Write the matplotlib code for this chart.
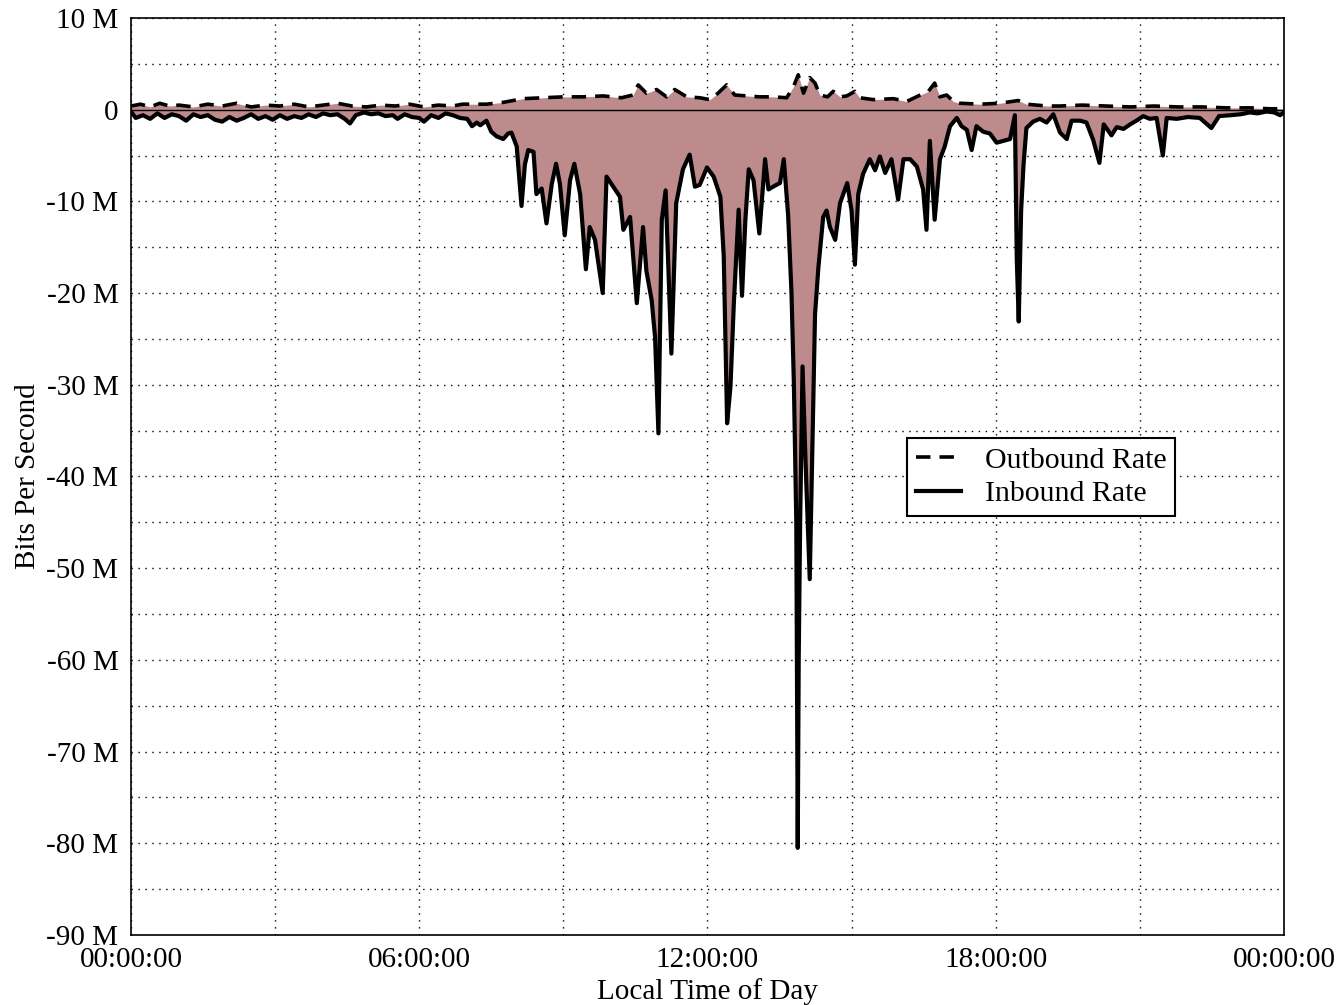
import matplotlib
matplotlib.use("Agg")
import matplotlib.pyplot as plt
from matplotlib.ticker import MultipleLocator, FuncFormatter, FixedLocator

# ---- data (hours of day, megabits per second) ----
in_hours = [0.0, 0.1, 0.25, 0.4, 0.55, 0.7, 0.85, 1.0, 1.15, 1.3, 1.45, 1.6, 1.75, 1.9, 2.05, 2.2,
            2.35, 2.5, 2.65, 2.8, 2.95, 3.1, 3.25, 3.4, 3.55, 3.7, 3.85, 4.0, 4.15, 4.3, 4.45, 4.56,
            4.68, 4.85, 5.0, 5.15, 5.3, 5.45, 5.55, 5.7, 5.85, 6.0, 6.1, 6.25, 6.4, 6.55, 6.7, 6.85,
            7.0, 7.1, 7.2, 7.27, 7.4, 7.5, 7.61, 7.75, 7.85, 7.92, 8.03, 8.13, 8.2, 8.27, 8.38, 8.44,
            8.55, 8.65, 8.76, 8.85, 8.93, 9.03, 9.14, 9.23, 9.35, 9.47, 9.55, 9.66, 9.82, 9.9, 10.04,
            10.18, 10.25, 10.39, 10.53, 10.66, 10.73, 10.84, 10.91, 10.98, 11.05, 11.13, 11.25, 11.35,
            11.49, 11.63, 11.74, 11.84, 11.99, 12.13, 12.27, 12.34, 12.41, 12.48, 12.55, 12.65, 12.72,
            12.79, 12.86, 12.96, 13.08, 13.2, 13.27, 13.4, 13.51, 13.59, 13.68, 13.75, 13.8, 13.85,
            13.87, 13.88, 13.9, 13.93, 13.98, 14.04, 14.13, 14.18, 14.24, 14.31, 14.41, 14.48, 14.55,
            14.66, 14.76, 14.91, 15.0, 15.07, 15.14, 15.24, 15.38, 15.49, 15.59, 15.7, 15.83, 15.97,
            16.08, 16.22, 16.36, 16.49, 16.56, 16.63, 16.73, 16.84, 16.94, 17.05, 17.19, 17.29, 17.4,
            17.5, 17.6, 17.74, 17.88, 18.02, 18.16, 18.3, 18.4, 18.44, 18.48, 18.53, 18.58, 18.64,
            18.78, 18.92, 19.06, 19.2, 19.34, 19.48, 19.58, 19.76, 19.89, 20.03, 20.16, 20.25, 20.41,
            20.52, 20.66, 20.8, 20.93, 21.07, 21.21, 21.35, 21.48, 21.56, 21.77, 22.0, 22.25, 22.49,
            22.65, 22.9, 23.1, 23.29, 23.45, 23.64, 23.8, 23.92, 24.0]
inbound = [-0.2, -0.9, -0.6, -1.0, -0.4, -0.9, -0.5, -0.7, -1.2, -0.5, -0.8, -0.6, -1.1, -1.3, -0.8, -1.2,
           -0.9, -0.5, -1.0, -0.7, -1.1, -0.6, -1.0, -0.7, -0.9, -0.5, -0.8, -0.4, -0.6, -0.5, -1.0, -1.5,
           -0.6, -0.3, -0.5, -0.4, -0.7, -0.6, -1.0, -0.5, -0.8, -0.9, -1.3, -0.6, -0.9, -0.4, -0.6, -0.9,
           -1.0, -1.8, -1.4, -1.7, -1.2, -2.4, -2.9, -3.2, -2.6, -2.5, -4.0, -10.5, -6.0, -4.4, -4.6, -9.2,
           -8.6, -12.4, -8.1, -5.9, -8.1, -13.7, -7.7, -5.9, -9.2, -17.4, -12.8, -14.2, -20.0, -7.3, -8.4,
           -9.5, -13.1, -11.7, -21.1, -12.8, -17.6, -20.8, -24.8, -35.3, -12.0, -8.8, -26.6, -10.2,
           -6.5, -4.9, -8.4, -8.2, -6.3, -7.3, -9.5, -16.0, -34.2, -30.2, -21.1, -10.9, -20.3,
           -12.0, -6.5, -7.7, -13.5, -5.4, -8.7, -8.3, -8.0, -5.4, -11.5, -20.0, -30.0, -45.0,
           -68.0, -80.5, -60.0, -45.0, -28.0, -38.0, -51.2, -38.0, -22.3, -17.2, -11.7, -11.0, -12.8,
           -14.2, -10.2, -8.0, -11.0, -16.9, -9.2, -7.0, -5.4, -6.6, -5.1, -6.9, -5.4, -9.8,
           -5.4, -5.4, -6.2, -8.7, -13.1, -3.4, -12.0, -5.4, -4.0, -1.8, -0.9, -1.8, -2.2,
           -4.4, -1.8, -2.4, -2.6, -3.6, -3.4, -3.2, -0.6, -16.4, -23.1, -11.0, -6.0, -2.0,
           -1.3, -1.0, -1.4, -0.5, -2.5, -3.2, -1.2, -1.2, -1.4, -3.3, -5.8, -1.6, -2.8,
           -1.9, -2.1, -1.6, -1.2, -0.7, -1.0, -0.9, -5.0, -0.9, -1.0, -0.8, -0.9, -2.0,
           -0.7, -0.6, -0.5, -0.3, -0.4, -0.2, -0.3, -0.6, -0.3]

out_hours = [0.0, 0.2, 0.4, 0.6, 0.8, 1.0, 1.3, 1.6, 1.9, 2.2, 2.5, 2.8, 3.1, 3.4, 3.7, 4.0, 4.3,
             4.6, 4.9, 5.2, 5.5, 5.8, 6.1, 6.4, 6.7, 6.9, 7.1, 7.4, 7.75, 8.16, 8.58, 9.0, 9.41,
             9.83, 10.21, 10.45, 10.56, 10.73, 10.94, 11.15, 11.32, 11.57, 11.84, 12.05, 12.22,
             12.4, 12.57, 12.82, 13.09, 13.37, 13.65, 13.79, 13.89, 14.0, 14.13, 14.24, 14.34,
             14.5, 14.62, 14.76, 14.9, 15.07, 15.17, 15.45, 15.87, 16.15, 16.43, 16.6, 16.73,
             16.84, 16.98, 17.12, 17.26, 17.67, 18.09, 18.47, 18.64, 19.06, 19.34, 19.8, 20.3,
             20.8, 21.3, 21.8, 22.3, 22.8, 23.3, 23.7, 24.0]
outbound = [0.4, 0.6, 0.3, 0.7, 0.4, 0.5, 0.3, 0.6, 0.4, 0.7, 0.3, 0.5, 0.4, 0.6, 0.3, 0.5, 0.7,
            0.4, 0.3, 0.5, 0.4, 0.6, 0.3, 0.5, 0.4, 0.6, 0.6, 0.6, 0.8, 1.2, 1.3, 1.4, 1.4,
            1.5, 1.3, 1.6, 2.7, 1.8, 2.2, 1.4, 2.2, 1.4, 1.3, 1.1, 1.8,
            2.7, 1.6, 1.5, 1.4, 1.4, 1.3, 2.5, 3.8, 1.8, 3.5, 2.9, 1.6,
            1.4, 2.0, 1.4, 1.5, 2.0, 1.3, 1.1, 1.2, 0.9, 1.6, 2.0, 2.9,
            1.4, 1.6, 0.9, 0.7, 0.6, 0.7, 1.0, 0.6, 0.4, 0.4, 0.5, 0.4,
            0.3, 0.4, 0.3, 0.3, 0.2, 0.2, 0.1, 0.1]

x_tick_hours = [0, 6, 12, 18, 24]
x_tick_labels = ["00:00:00", "06:00:00", "12:00:00", "18:00:00", "00:00:00"]
y_ticks = [10, 0, -10, -20, -30, -40, -50, -60, -70, -80, -90]

# ---- style ----
plt.rcParams['font.family'] = ['Liberation Serif', 'DejaVu Serif']
fill_color = '#bd8b8b'
FS = 21

fig = plt.figure(figsize=(13.43, 10.05), dpi=100)
ax = fig.add_axes([0.0975, 0.0697, 0.8585, 0.9124])

ax.fill_between(in_hours, inbound, 0, color=fill_color, linewidth=0, zorder=2)
ax.fill_between(out_hours, 0, outbound, color=fill_color, linewidth=0, zorder=2)
ax.axhline(0, color='black', linewidth=1.0, zorder=3)
ax.plot(out_hours, outbound, color='black', linewidth=2.6, linestyle=(0, (4, 2.5)),
        label='Outbound Rate', zorder=4)
ax.plot(in_hours, inbound, color='black', linewidth=3.0, label='Inbound Rate', zorder=5)

ax.set_xlim(0, 24)
ax.set_ylim(-90, 10)
ax.xaxis.set_major_locator(FixedLocator(x_tick_hours))
ax.set_xticklabels(x_tick_labels)
ax.xaxis.set_minor_locator(MultipleLocator(3))
ax.yaxis.set_major_locator(FixedLocator(y_ticks))
ax.yaxis.set_minor_locator(MultipleLocator(5))
ax.yaxis.set_major_formatter(FuncFormatter(lambda v, p: "0" if v == 0 else f"{int(v)} M"))

ax.grid(True, which='both', linestyle=(0, (1, 4)), color='black', linewidth=1.0, zorder=1)
ax.set_axisbelow(True)
ax.tick_params(which='both', length=0, labelsize=FS)
ax.tick_params(axis='x', pad=9)
ax.tick_params(axis='y', pad=9)
for s in ax.spines.values():
    s.set_linewidth(1.2)

ax.set_xlabel("Local Time of Day", fontsize=FS, labelpad=3)
ax.set_ylabel("Bits Per Second", fontsize=FS, labelpad=4)

leg = ax.legend(loc='upper left', bbox_to_anchor=(0.673, 0.542), borderaxespad=0,
                fontsize=FS + 0.5, frameon=True, fancybox=False, edgecolor='black',
                framealpha=1, handlelength=1.5, borderpad=0.3, labelspacing=0.22,
                handletextpad=0.8)
leg.get_frame().set_linewidth(1.5)

fig.savefig("out.png", dpi=100)
